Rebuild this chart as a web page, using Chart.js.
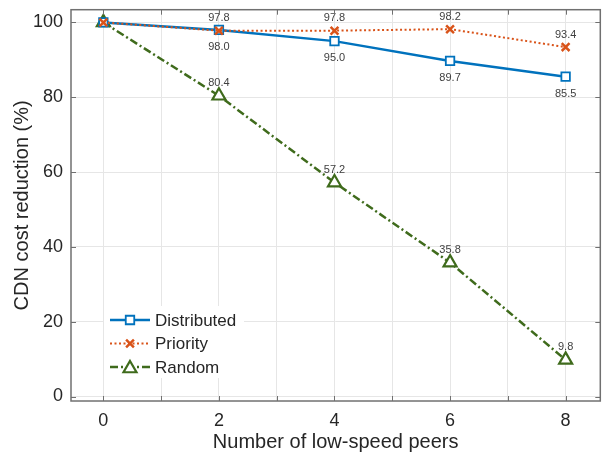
<!DOCTYPE html>
<html>
<head>
<meta charset="utf-8">
<script src="https://cdn.jsdelivr.net/npm/chart.js@4/dist/chart.umd.min.js"></script>
<style>
  html, body { margin: 0; padding: 0; background: #fff; }
  #wrap { width: 610px; height: 455px; }
</style>
</head>
<body>
<div id="wrap"><canvas id="cdnChart" width="610" height="455"></canvas></div>
<script>
// data
const peers = [0, 2, 4, 6, 8];
const distributed = [100, 98.0, 95.0, 89.7, 85.5];
const priority = [100, 97.8, 97.8, 98.2, 93.4];
const random = [100, 80.4, 57.2, 35.8, 9.8];
const xTicks = [0, 1, 2, 3, 4, 5, 6, 7, 8];
const yTicks = [0, 20, 40, 60, 80, 100];

Chart.defaults.font.family = '"Liberation Sans", Arial, sans-serif';
Chart.defaults.color = '#262626';

const BLUE = '#0072BD', ORANGE = '#D95319', GREEN = '#3f6b1c';
const AXIS = '#707070';

const toXY = vals => vals.map((v, i) => ({ x: peers[i], y: v }));

// value labels next to the points (index 0 left unlabelled)
const valueLabels = {
  id: 'valueLabels',
  afterDatasetsDraw(chart) {
    const ctx = chart.ctx;
    ctx.save();
    ctx.font = '11px "Liberation Sans", Arial, sans-serif';
    ctx.fillStyle = '#404040';
    ctx.textAlign = 'center';
    ctx.textBaseline = 'middle';
    chart.data.datasets.forEach((ds, di) => {
      const meta = chart.getDatasetMeta(di);
      meta.data.forEach((pt, i) => {
        if (i === 0) return;
        const v = ds.data[i].y;
        const dy = ds.labelPos === 'below' ? 17 : -12.5;
        ctx.fillText(v.toFixed(1), pt.x, pt.y + dy);
      });
    });
    ctx.restore();
  }
};

// box around the plot, inner tick marks and the legend
const frame = {
  id: 'frame',
  afterDraw(chart) {
    const ctx = chart.ctx;
    const a = chart.chartArea;
    const xs = chart.scales.x, ys = chart.scales.y;
    ctx.save();
    ctx.strokeStyle = AXIS;
    ctx.lineWidth = 1.5;
    ctx.strokeRect(a.left, a.top, a.right - a.left, a.bottom - a.top);
    ctx.lineWidth = 1;
    ctx.beginPath();
    xTicks.forEach(v => {
      const px = Math.round(xs.getPixelForValue(v)) + 0.5;
      ctx.moveTo(px, a.bottom); ctx.lineTo(px, a.bottom - 5);
      ctx.moveTo(px, a.top); ctx.lineTo(px, a.top + 5);
    });
    yTicks.forEach(v => {
      const py = Math.round(ys.getPixelForValue(v)) + 0.5;
      ctx.moveTo(a.left, py); ctx.lineTo(a.left + 5, py);
      ctx.moveTo(a.right, py); ctx.lineTo(a.right - 5, py);
    });
    ctx.stroke();

    // legend inside the lower-left corner
    const lx = 104, ly = 306;
    ctx.fillStyle = '#fff';
    ctx.fillRect(lx, ly, 140, 72);
    ctx.font = '17px "Liberation Sans", Arial, sans-serif';
    ctx.textBaseline = 'middle';
    chart.data.datasets.forEach((ds, i) => {
      const y = 320 + i * 23.5;
      ctx.strokeStyle = ds.borderColor;
      ctx.lineWidth = ds.borderWidth;
      ctx.setLineDash(ds.borderDash || []);
      ctx.beginPath();
      ctx.moveTo(110, y); ctx.lineTo(150, y);
      ctx.stroke();
      ctx.setLineDash([]);
      ctx.fillStyle = '#fff';
      ctx.lineWidth = ds.pointBorderWidth;
      Chart.helpers.drawPoint(ctx, {
        pointStyle: ds.pointStyle, radius: ds.pointRadius,
        borderWidth: ds.pointBorderWidth, rotation: 0
      }, 130, ds.pointStyle === 'triangle' ? y + 1.5 : y);
      ctx.fillStyle = '#262626';
      ctx.fillText(ds.label, 155, y + 1);
    });
    ctx.restore();
  }
};

new Chart(document.getElementById('cdnChart').getContext('2d'), {
  type: 'line',
  data: {
    datasets: [
      {
        label: 'Distributed',
        data: toXY(distributed),
        borderColor: BLUE, borderWidth: 2.5,
        pointStyle: 'rect', pointRadius: 6, pointBorderWidth: 1.8,
        pointBackgroundColor: '#fff', pointBorderColor: BLUE,
        labelPos: 'below', order: 1
      },
      {
        label: 'Priority',
        data: toXY(priority),
        borderColor: ORANGE, borderWidth: 2, borderDash: [2, 2.5],
        pointStyle: 'crossRot', pointRadius: 5.5, pointBorderWidth: 2.5,
        pointBorderColor: ORANGE,
        labelPos: 'above', order: 0
      },
      {
        label: 'Random',
        data: toXY(random),
        borderColor: GREEN, borderWidth: 2.5, borderDash: [8, 3, 2, 3],
        pointStyle: 'triangle', pointRadius: 7.5, pointBorderWidth: 2.2,
        pointBackgroundColor: [GREEN, '#fff', '#fff', '#fff', '#fff'], pointBorderColor: GREEN,
        labelPos: 'above', order: 2
      }
    ]
  },
  options: {
    responsive: false,
    animation: false,
    layout: { padding: { top: 9, right: 3, left: 0, bottom: 0 } },
    plugins: { legend: { display: false }, tooltip: { enabled: false } },
    scales: {
      x: {
        type: 'linear', min: -0.56, max: 8.6,
        afterBuildTicks: s => { s.ticks = xTicks.map(v => ({ value: v })); },
        afterFit: s => { s.height = 54; s.paddingLeft = 0; s.paddingRight = 0; },
        ticks: {
          autoSkip: false, maxRotation: 0, padding: 9,
          font: { size: 18 }, color: '#262626',
          callback: v => (v % 2 === 0 ? String(v) : '')
        },
        grid: { color: '#e6e6e6', lineWidth: 1, drawTicks: false },
        border: { display: false },
        title: {
          display: true, text: 'Number of low-speed peers',
          font: { size: 20 }, color: '#262626', padding: { top: 0, bottom: 1 }
        }
      },
      y: {
        min: -1.2, max: 103.4,
        afterBuildTicks: s => { s.ticks = yTicks.map(v => ({ value: v })); },
        afterFit: s => { s.width = 71; s.paddingTop = 0; s.paddingBottom = 0; },
        ticks: { padding: 8, font: { size: 18 }, color: '#262626' },
        grid: { color: '#e6e6e6', lineWidth: 1, drawTicks: false },
        border: { display: false },
        title: {
          display: true, text: 'CDN cost reduction (%)',
          font: { size: 20 }, color: '#262626', padding: { top: 10, bottom: 0 }
        }
      }
    }
  },
  plugins: [valueLabels, frame]
});
</script>
</body>
</html>
